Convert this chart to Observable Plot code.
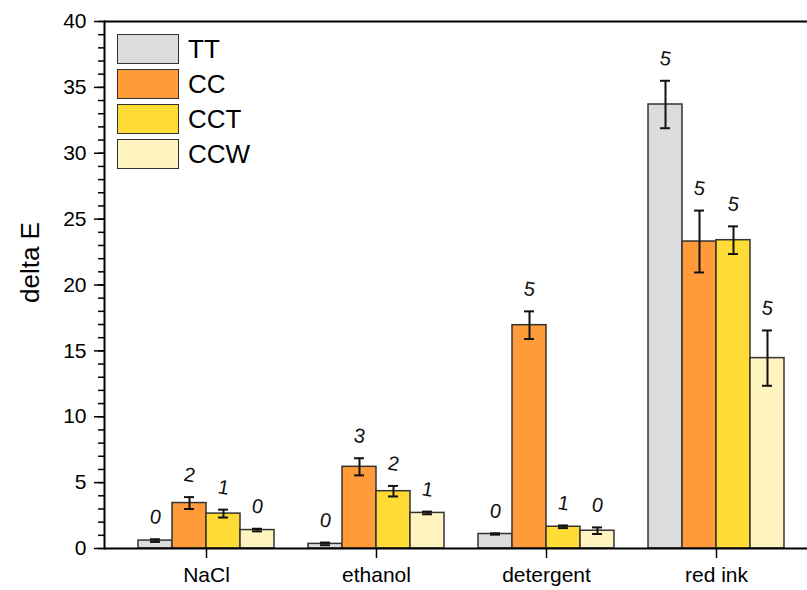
<!DOCTYPE html>
<html>
<head>
<meta charset="utf-8">
<script src="https://cdn.jsdelivr.net/npm/d3@7"></script>
<script src="https://cdn.jsdelivr.net/npm/@observablehq/plot@0.6"></script>
<style>
  html, body { margin: 0; padding: 0; background: #fff; overflow: hidden; }
  #wrap { position: relative; width: 807px; height: 590px; overflow: hidden; font-family: "Liberation Sans", Arial, sans-serif; }
  #wrap svg { max-width: none !important; display: block; }
  #wrap svg g[aria-label="y-axis tick label"] text,
  #wrap svg g[aria-label="x-axis tick label"] text { font-size: 21px; }
  #legend { position: absolute; left: 117px; top: 32px; }
  #cover { position: absolute; left: 802px; top: 23px; width: 10px; height: 523px; background: #fff; }
  .item { display: flex; align-items: center; height: 34.8px; }
  .sw { width: 60px; height: 28px; border: 1.6px solid #333; box-sizing: content-box; }
  .lab { margin-left: 9px; font-size: 26px; color: #000; line-height: 28px; }
</style>
</head>
<body>
<div id="wrap"></div>
<script>
const categories = ["NaCl", "ethanol", "detergent", "red ink"];
const series = ["TT", "CC", "CCT", "CCW"];
const colors = ["#dcdcdc", "#ff9b38", "#ffdb35", "#fff4c0"];

const TT = [0.6, 0.35, 1.1, 33.7];
const CC = [3.45, 6.2, 16.95, 23.3];
const CCT = [2.65, 4.35, 1.65, 23.4];
const CCW = [1.4, 2.7, 1.35, 14.45];

const TT_err = [0.1, 0.1, 0.05, 1.8];
const CC_err = [0.45, 0.65, 1.05, 2.35];
const CCT_err = [0.3, 0.4, 0.1, 1.05];
const CCW_err = [0.1, 0.1, 0.25, 2.1];

const TT_n = ["0", "0", "0", "5"];
const CC_n = ["2", "3", "5", "5"];
const CCT_n = ["1", "2", "1", "5"];
const CCW_n = ["0", "1", "0", "5"];

const yTicks = [0, 5, 10, 15, 20, 25, 30, 35, 40];
const yMinor = d3.range(0, 41, 1);

const valueSets = [TT, CC, CCT, CCW];
const errSets = [TT_err, CC_err, CCT_err, CCW_err];
const nSets = [TT_n, CC_n, CCT_n, CCW_n];

const rows = [];
series.forEach((s, i) => {
  categories.forEach((c, j) => {
    const v = valueSets[i][j], e = errSets[i][j];
    rows.push({series: s, si: i, cat: c, value: v, lo: v - e, hi: v + e, n: nSets[i][j]});
  });
});

const barStep = 34;
const marks = [];
series.forEach((s, i) => {
  const d = rows.filter(r => r.series === s);
  const dx = (i - 1.5) * barStep;
  marks.push(Plot.barY(d, {x: "cat", y: "value", fill: colors[i], stroke: "#333", strokeWidth: 1.5, dx}));
  marks.push(Plot.ruleX(d, {x: "cat", y1: "lo", y2: "hi", stroke: "#111", strokeWidth: 2, dx}));
  marks.push(Plot.tickY(d, {x: "cat", y: "hi", stroke: "#111", strokeWidth: 2, insetLeft: 12, insetRight: 12, dx}));
  marks.push(Plot.tickY(d, {x: "cat", y: "lo", stroke: "#111", strokeWidth: 2, insetLeft: 12, insetRight: 12, dx}));
  marks.push(Plot.text(d, {x: "cat", y: "hi", text: "n", dx, dy: -22, fontSize: 20, rotate: 10, fill: "#111"}));
});

const chart = Plot.plot({
  width: 807,
  height: 590,
  marginLeft: 104,
  marginRight: 0,
  marginTop: 21,
  marginBottom: 42,
  style: {fontFamily: "'Liberation Sans', Arial, sans-serif", fontSize: "21px", background: "#fff", color: "#000"},
  x: {domain: categories, range: [121, 801], paddingInner: 0.8, paddingOuter: 0.4},
  y: {domain: [0, 40]},
  marks: [
    ...marks,
    Plot.ruleY([0, 40], {stroke: "#000", strokeWidth: 2}),
    Plot.frame({anchor: "left", stroke: "#000", strokeWidth: 2}),
    Plot.axisY({ticks: yMinor, tickSize: 6, tickFormat: () => "", label: null, strokeWidth: 1.5}),
    Plot.axisY({ticks: yTicks, tickSize: 10, tickPadding: 8, fontSize: 21, label: null, strokeWidth: 1.5}),
    Plot.axisX({tickSize: 10, tickPadding: 9, fontSize: 21, label: null, strokeWidth: 1.5}),
    Plot.text(["delta E"], {text: d => d, frameAnchor: "left", dx: -74, dy: 18, rotate: -90, fontSize: 26, fill: "#000"})
  ]
});

const wrap = document.getElementById("wrap");
wrap.appendChild(chart);
const cover = document.createElement("div");
cover.id = "cover";
wrap.appendChild(cover);
const legend = document.createElement("div");
legend.id = "legend";
series.forEach((s, i) => {
  const item = document.createElement("div");
  item.className = "item";
  const sw = document.createElement("div");
  sw.className = "sw";
  sw.style.background = colors[i];
  const lab = document.createElement("span");
  lab.className = "lab";
  lab.textContent = s;
  item.appendChild(sw);
  item.appendChild(lab);
  legend.appendChild(item);
});
wrap.appendChild(legend);
</script>
</body>
</html>
